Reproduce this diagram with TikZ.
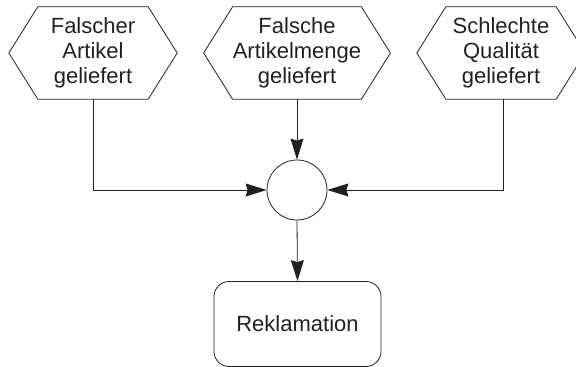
\documentclass[tikz,border=0pt]{standalone}
\usepackage{fontspec}
\setmainfont{Liberation Sans}
\usetikzlibrary{arrows.meta}
\definecolor{ink}{HTML}{231F20}
\begin{document}
\begin{tikzpicture}[x=1pt,y=-1pt,
  every node/.style={text=ink},
  hexnode/.style={minimum width=110pt,minimum height=92pt,inner sep=0pt,align=center,font=\fontsize{22}{25}\selectfont},
  hexline/.style={draw=ink,line width=0.8pt,line join=miter},
  arr/.style={draw=ink,line width=0.8pt,-{Stealth[length=21pt,width=13pt,inset=2pt]}},
  joinc/.style={circle,draw=ink,line width=0.8pt,minimum size=60pt,inner sep=0pt},
  resbox/.style={draw=ink,line width=0.8pt,rounded corners=15pt,minimum width=167pt,minimum height=85pt,font=\fontsize{22}{25}\selectfont}]
\useasboundingbox (0,0) rectangle (576,367);
\node[hexnode] (h1) at (93,53) {Falscher\\Artikel\\geliefert};
\node[hexnode] (h2) at (297,53) {Falsche\\Artikelmenge\\geliefert};
\node[hexnode] (h3) at (501,53) {Schlechte\\Qualität\\geliefert};
\foreach \h in {h1,h2,h3}{
  \draw[hexline] (\h.north west) -- (\h.north east) -- ([xshift=29pt]\h.east) -- (\h.south east) -- (\h.south west) -- ([xshift=-29pt]\h.west) -- cycle;
}
\node[joinc] (c) at (297,190) {};
\node[resbox] (r) at (297.5,324) {Reklamation};
\draw[arr] (h1.south) |- (c.west);
\draw[arr] (h2.south) -- (c.north);
\draw[arr] ([xshift=2pt]h3.south) |- (c.east);
\draw[arr] (c.south) -- (r.north);
\end{tikzpicture}
\end{document}
